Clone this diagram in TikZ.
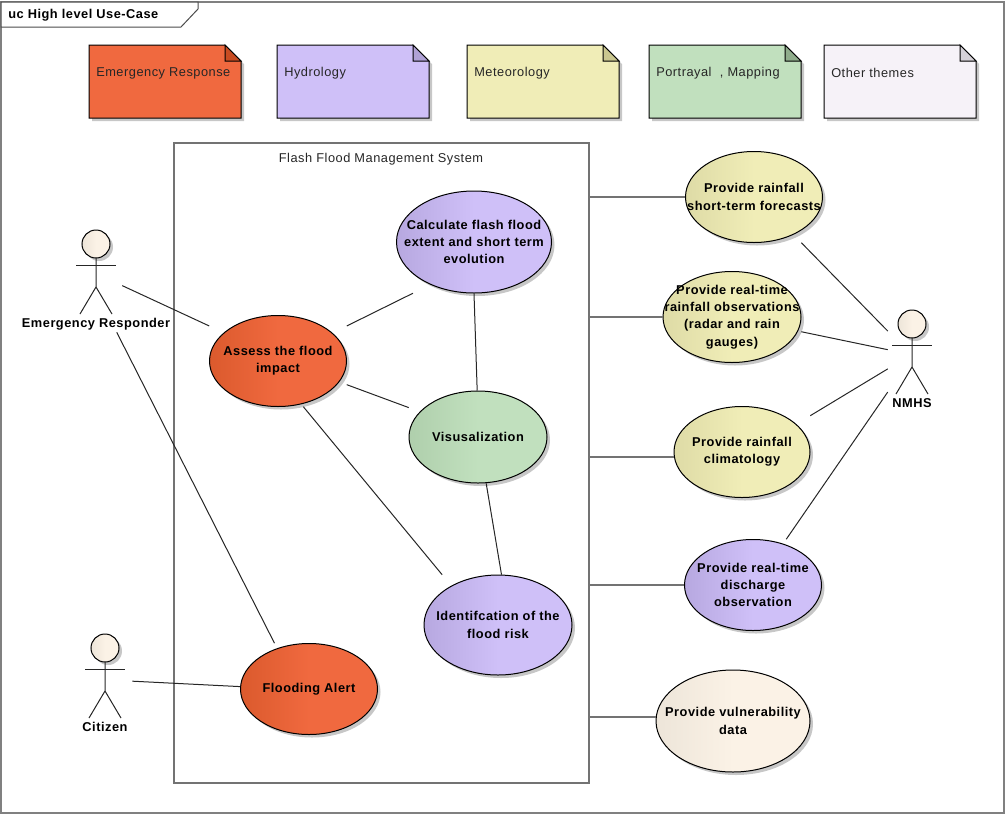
\documentclass[tikz,border=0pt]{standalone}
\usepackage{fontspec}
\setmainfont{Liberation Sans}[LetterSpace=4]
\usetikzlibrary{calc}
\definecolor{redfill}{HTML}{F0693F}
\definecolor{reddark}{HTML}{DB5A2D}
\definecolor{redfold}{HTML}{C94C22}
\definecolor{purplefill}{HTML}{CFC0F8}
\definecolor{purpledark}{HTML}{B7A8E0}
\definecolor{purplefold}{HTML}{B0A2D6}
\definecolor{yellowfill}{HTML}{F0EDB7}
\definecolor{yellowdark}{HTML}{DEDBA6}
\definecolor{yellowfold}{HTML}{CAC78F}
\definecolor{greenfill}{HTML}{C1E0BE}
\definecolor{greendark}{HTML}{AFCFAC}
\definecolor{greenfold}{HTML}{90AD8C}
\definecolor{otherfill}{HTML}{F6F2F8}
\definecolor{otherfold}{HTML}{D6D2D8}
\definecolor{creamfill}{HTML}{FBF2E6}
\definecolor{creamdark}{HTML}{EDE5D9}
\tikzset{
	plainline/.style={line width=0.75pt, color=black!85},
	edgeline/.style={line width=1.1pt, color=black!55},
	drop/.style={fill=black!22, draw=none},
	caselabel/.style={rectangle, inner sep=0pt, align=center, font=\fontsize{9.6}{13}\selectfont\bfseries},
	notelabel/.style={inner sep=0pt, anchor=west, font=\fontsize{9.6}{13}\selectfont, text=black!85},
	actorlabel/.style={inner sep=0pt, anchor=base, font=\fontsize{9.6}{13}\selectfont\bfseries}
}
\def\usecase[#1:#2](#3)(#4,#5)(#6:#7)#8{
	\fill[drop] (#4+3, #5+3) ellipse (#6 and #7);
	\draw[line width=0.75pt, left color=#1, right color=#2, middle color=#2] (#4, #5) ellipse (#6 and #7);
	\node[caselabel, minimum width=#6*1.5pt, minimum height=#7*1.5pt] (#3) at (#4, #5) {#8};
}
\def\notepaper[#1:#2](#3)(#4){
	\fill[drop] (#4+3, 48) -- (#4+139, 48) -- (#4+155, 64) -- (#4+155, 121) -- (#4+3, 121) -- cycle;
	\draw[line width=0.75pt, fill=#1] (#4, 45) -- (#4+136, 45) -- (#4+152, 61) -- (#4+152, 118) -- (#4, 118) -- cycle;
	\draw[line width=0.75pt, fill=#2] (#4+136, 45) -- (#4+152, 61) -- (#4+136, 61) -- cycle;
	\node[notelabel] (#3) at (#4+7, 73)
}
\def\actor(#1)(#2,#3)(#4)#5{
	\fill[drop] (#2+3, #3+3) circle (14);
	\draw[line width=0.75pt, left color=creamdark, right color=creamfill, middle color=creamfill] (#2, #3) circle (14);
	\draw[plainline] (#2, #3+14) -- (#2, #3+43) -- (#2-16, #3+70);
	\draw[plainline] (#2, #3+43) -- (#2+16, #3+70);
	\draw[plainline] (#2-20, #3+21.5) -- (#2+20, #3+21.5);
	\node[rectangle, inner sep=0pt, minimum width=#4*0.75pt, minimum height=76.5pt] (#1) at (#2, #3+37) {};
	\node[actorlabel] (#1label) at ($(#1.south)+(0,-5)$) {#5};
}

\begin{document}
\begin{tikzpicture}[x=0.75pt, y=-0.75pt]
	\useasboundingbox (0, 0) rectangle (1008, 815);

	%%%%% FRAME %%%%%
	\draw[line width=1.5pt, color=black!50] (1, 2) rectangle (1004, 812.5);
	\draw[line width=0.75pt, color=black!70, fill=white] (1, 2) -- (198, 2) -- (198, 9) -- (181, 27) -- (1, 27) -- cycle;
	\node[actorlabel, anchor=base west] (title) at (8, 18.5) {uc High level Use-Case};

	%%%%% THEMES %%%%%
	\notepaper[redfill:redfold](noteRed)(89) {Emergency Response};
	\notepaper[purplefill:purplefold](notePurple)(277) {Hydrology};
	\notepaper[yellowfill:yellowfold](noteYellow)(467) {Meteorology};
	\notepaper[greenfill:greenfold](noteGreen)(649) {Portrayal\,\, , Mapping};
	\notepaper[otherfill:otherfold](noteOther)(824) {Other themes};

	%%%%% SYSTEM %%%%%
	\node[rectangle, draw=black!55, line width=1.1pt, inner sep=0pt, minimum width=311.25pt, minimum height=480pt] (system) at (381.5, 463) {};
	\node[notelabel, anchor=base] (systemlabel) at (381, 162) {Flash Flood Management System};

	%%%%% CASES %%%%%
	\usecase[purpledark:purplefill](calc)(474, 242)(77.5:51){Calculate flash flood\\extent and short term\\evolution}
	\usecase[reddark:redfill](assess)(278, 361)(68.5:45.5){Assess the flood\\impact}
	\usecase[greendark:greenfill](visual)(478, 437)(69:46){Visusalization}
	\usecase[purpledark:purplefill](risk)(498, 625)(74:50){Identifcation of the\\flood risk}
	\usecase[reddark:redfill](alert)(309, 689)(68.5:45.5){Flooding Alert}
	\usecase[yellowdark:yellowfill](forecast)(754, 197)(68.5:45.5){Provide rainfall\\short-term forecasts}
	\usecase[yellowdark:yellowfill](observe)(732, 317)(69:45.5){Provide real-time\\rainfall observations\\(radar and rain\\gauges)}
	\usecase[yellowdark:yellowfill](climate)(742, 452)(68:45.5){Provide rainfall\\climatology}
	\usecase[purpledark:purplefill](discharge)(753, 585)(68.5:45.5){Provide real-time\\discharge\\observation}
	\usecase[creamdark:creamfill](vulnerable)(733, 721)(77:51){Provide vulnerability\\data}

	%%%%% ACTORS %%%%%
	\actor(responder)(96, 244)(52){Emergency Responder}
	\actor(citizen)(105, 648)(54){Citizen}
	\actor(nmhs)(912, 324)(48){NMHS}

	%%%%% LINKS %%%%%
	\draw[plainline] (responder.-10.9) -- (assess.153.4);
	\draw[plainline] (responder.-68.6) -- (alert.127.1);
	\draw[plainline] (citizen.8.4) -- (alert.178.3);
	\draw[plainline] (assess.27.6) -- (calc.220);
	\draw[plainline] (assess.-19.9) -- (visual.157.2);
	\draw[plainline] (assess.-61.5) -- (risk.138.7);
	\draw[plainline] (calc.-90) -- (visual.91);
	\draw[plainline] (visual.-80.1) -- (risk.86.6);

	\draw[edgeline] (system.east |- forecast.west) -- (forecast.west);
	\draw[edgeline] (system.east |- observe.west) -- (observe.west);
	\draw[edgeline] (system.east |- climate.184.2) -- (climate.184.2);
	\draw[edgeline] (system.east |- discharge.west) -- (discharge.west);
	\draw[edgeline] (system.east |- vulnerable.177) -- (vulnerable.177);

	\draw[plainline] (forecast.-44.4) -- (nmhs.129.6);
	\draw[plainline] (observe.-12.1) -- (nmhs.155.4);
	\draw[plainline] (climate.28.8) -- (nmhs.198.4);
	\draw[plainline] (discharge.54.6) -- (nmhs.232.3);
\end{tikzpicture}
\end{document}
